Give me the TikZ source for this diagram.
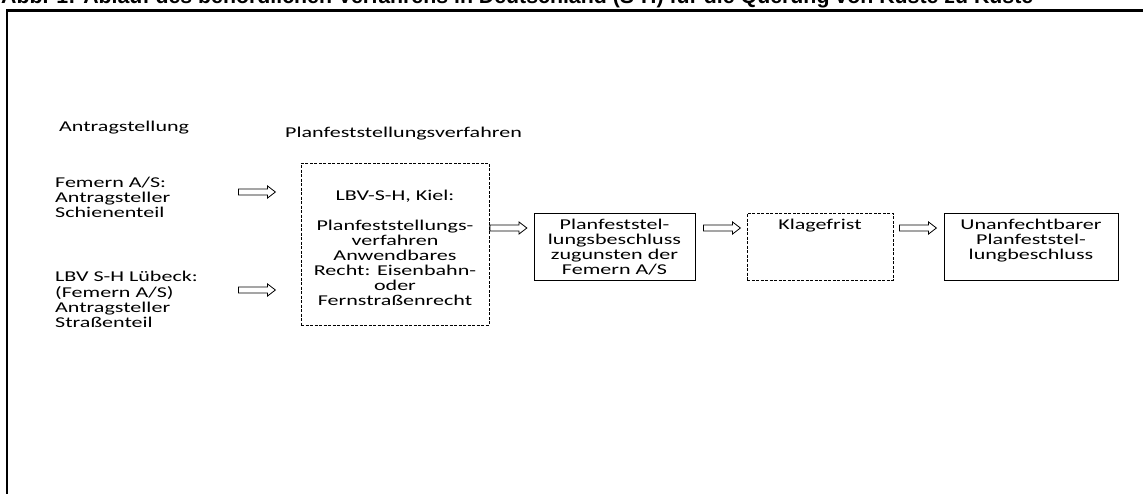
\documentclass[tikz,border=0pt]{standalone}
\usepackage{fontspec}
\setmainfont{Carlito}[FakeStretch=1.47]
\newfontfamily\titlefont{Liberation Sans}
\usetikzlibrary{shapes.arrows}
\begin{document}
\begin{tikzpicture}[x=1pt,y=-1pt,
  txt/.style={font=\fontsize{15}{15}\selectfont, inner sep=0pt, text=black},
  lbl/.style={txt, anchor=north west, align=left},
  boxtxt/.style={txt, anchor=north, align=center},
  solidbox/.style={draw=black, line width=0.9pt, inner sep=0pt},
  dashbox/.style={solidbox, dash pattern=on 3pt off 1.5pt},
  barrow/.style={single arrow, draw=black, line width=0.8pt, minimum height=37pt,
    inner xsep=0pt, inner ysep=2.6pt, text height=0pt, text depth=0pt,
    single arrow head extend=3pt, single arrow tip angle=75, anchor=west},
  frameline/.style={line width=2.5pt, draw=black}
]
\clip (0,0) rectangle (1143,493);
\fill[white] (0,0) rectangle (1143,493);
% outer frame (only top and left edges lie inside the picture)
\draw[frameline] (7.2,10.3) rectangle (1170,520);
% title (cut at the top edge)
\node[anchor=base west, inner sep=0pt] (title) at (1,3)
  {\resizebox{1032pt}{!}{\titlefont\bfseries\fontsize{14}{16}\selectfont Abb. 1: Ablauf des behördlichen Verfahrens in Deutschland (S-H) für die Querung von Küste zu Küste}};
% column headings
\node[lbl] (ant) at (59,120.5) {\strut Antragstellung};
\node[lbl] (pfv) at (285,126.5) {\strut Planfeststellungsverfahren};
% applicants
\node[lbl] (fem) at (55,176.5) {\strut Femern A/S:\\Antragsteller\\Schienenteil};
\node[lbl] (lbv) at (55,270.5) {\strut LBV S-H Lübeck:\\(Femern A/S)\\Antragsteller\\Straßenteil};
% boxes
\node[dashbox, minimum width=188pt, minimum height=162pt] (pv) at (395,244) {};
\node[solidbox, minimum width=161pt, minimum height=67pt] (pb) at (614.5,246.5) {};
\node[dashbox, minimum width=146pt, minimum height=67pt] (kf) at (820,246.5) {};
\node[solidbox, minimum width=174pt, minimum height=67pt] (ub) at (1031,246.5) {};
% box texts
\node[boxtxt] (pvt) at (395,189.5) {\strut LBV-S-H, Kiel:\\[15pt]Planfeststellungs-\\verfahren\\Anwendbares\\Recht: Eisenbahn-\\oder\\Fernstraßenrecht};
\node[boxtxt] (pbt) at (614.5,218.5) {\strut Planfeststel-\\lungsbeschluss\\zugunsten der\\Femern A/S};
\node[boxtxt] (kft) at (820,218.5) {\strut Klagefrist};
\node[boxtxt] (ubt) at (1031,218.5) {\strut Unanfechtbarer\\Planfeststel-\\lungbeschluss};
% block arrows
\node[barrow] (a1) at (238,192) {};
\node[barrow] (a2) at (238,290) {};
\node[barrow] (a3) at (pv.east |- 0,228) {};
\node[barrow] (a4) at (703,228) {};
\node[barrow] (a5) at (899,228) {};
\end{tikzpicture}
\end{document}
